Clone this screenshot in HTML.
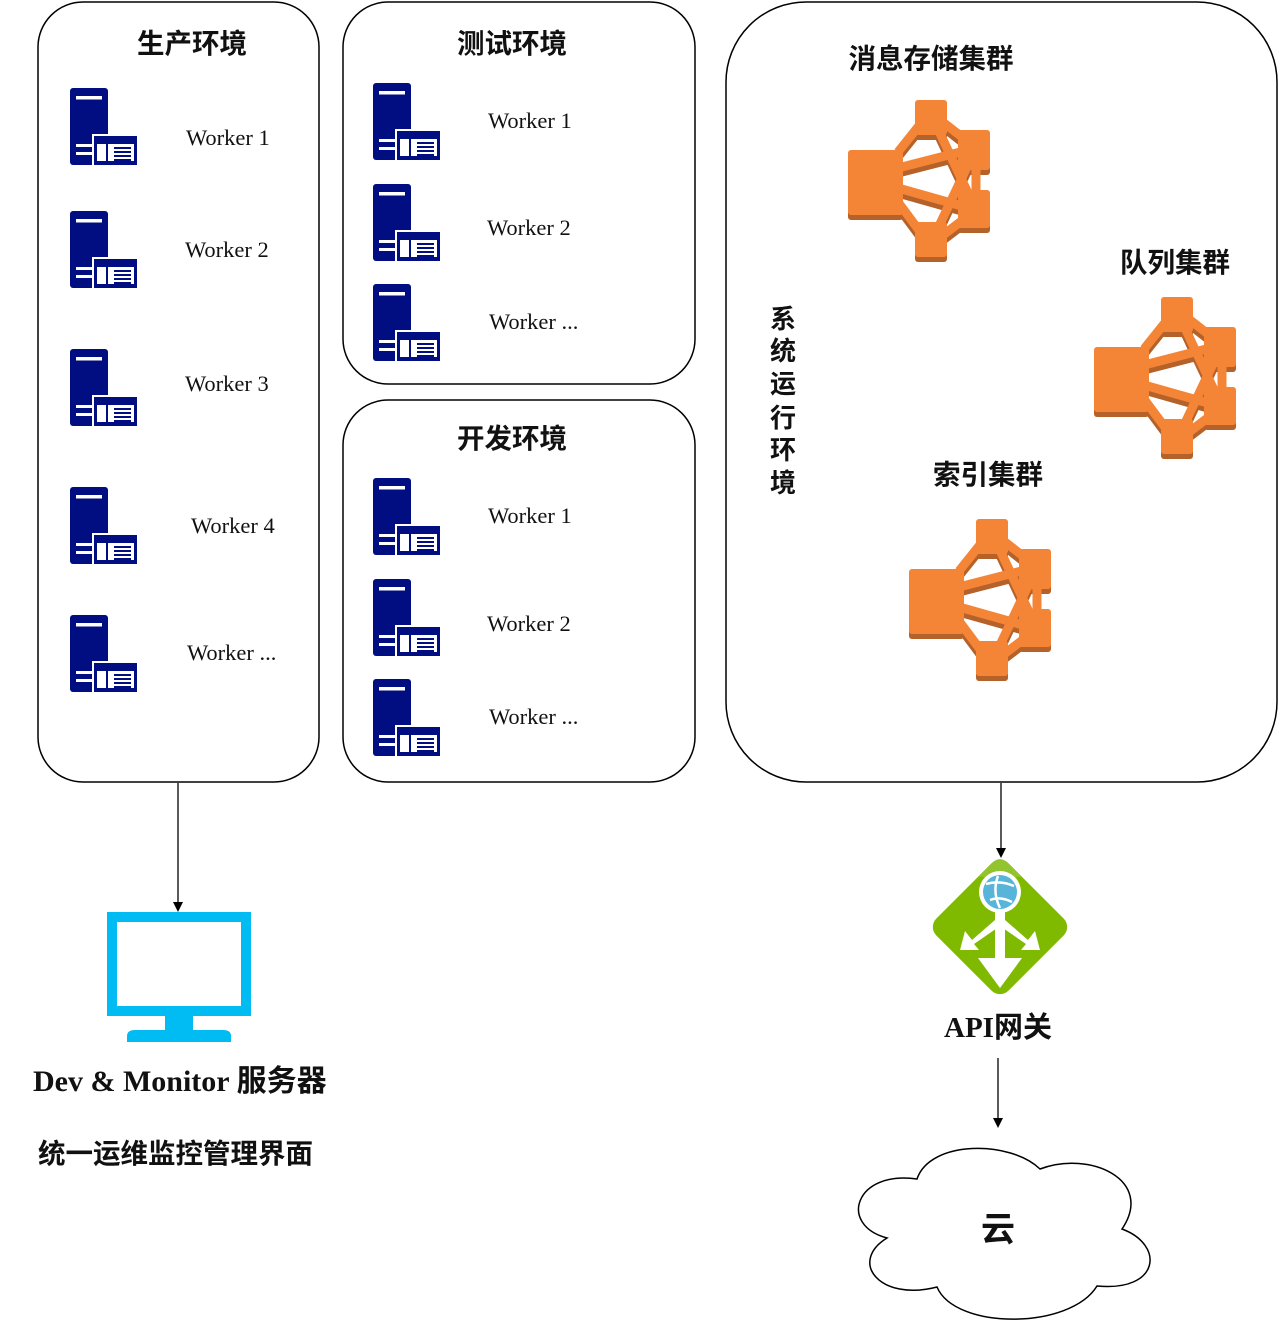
<!DOCTYPE html>
<html><head><meta charset="utf-8"><style>
body{margin:0;background:#fff;width:1280px;height:1329px;overflow:hidden}
svg{display:block}
.cn{font-family:"Liberation Sans","Noto Sans CJK SC",sans-serif;font-weight:bold;fill:#111}
.w{font-family:"Liberation Serif",serif;font-size:22.5px;fill:#111}
</style></head><body>
<svg width="1280" height="1329" viewBox="0 0 1280 1329">
<defs>
<g id="srv">
<rect x="0" y="0" width="38" height="77" rx="3" fill="#000E82"/>
<rect x="6" y="8" width="26" height="3.5" fill="#fff"/>
<rect x="6" y="56" width="17" height="3" fill="#fff"/>
<rect x="6" y="64" width="17" height="3" fill="#fff"/>
<rect x="22" y="46" width="45" height="31" fill="#fff"/>
<rect x="24" y="48" width="43" height="29" fill="#000E82"/>
<rect x="27" y="56" width="9" height="17" fill="#fff"/>
<rect x="38" y="56" width="26" height="17" fill="#fff"/>
<rect x="44" y="59" width="17" height="2" fill="#000E82"/>
<rect x="44" y="63" width="17" height="2" fill="#000E82"/>
<rect x="44" y="67" width="17" height="2" fill="#000E82"/>
<rect x="44" y="71" width="17" height="2" fill="#000E82"/>
</g>
<g id="clu">
<g stroke="#B5612A" stroke-width="9" fill="none" transform="translate(0,5)">
<path d="M50 52 L82 12 L128 48 L128 110 L82 145 L50 102"/>
<path d="M50 68 L128 48 M50 88 L128 110 M82 12 L128 110 M82 145 L128 48"/>
</g>
<g fill="#B5612A">
<rect x="0" y="55" width="55" height="65" rx="3"/><rect x="67" y="5" width="32" height="35" rx="3"/>
<rect x="110" y="35" width="32" height="40" rx="3"/><rect x="110" y="95" width="32" height="38" rx="3"/>
<rect x="67" y="127" width="32" height="35" rx="3"/>
</g>
<g stroke="#F58536" stroke-width="9" fill="none">
<path d="M50 52 L82 12 L128 48 L128 110 L82 145 L50 102"/>
<path d="M50 68 L128 48 M50 88 L128 110 M82 12 L128 110 M82 145 L128 48"/>
</g>
<g fill="#F58536">
<rect x="0" y="50" width="55" height="65" rx="3"/><rect x="67" y="0" width="32" height="35" rx="3"/>
<rect x="110" y="30" width="32" height="40" rx="3"/><rect x="110" y="90" width="32" height="38" rx="3"/>
<rect x="67" y="122" width="32" height="35" rx="3"/>
</g>
</g>
</defs>
<g fill="none" stroke="#000" stroke-width="1.5">
<rect x="38" y="2" width="281" height="780" rx="45"/>
<rect x="343" y="2" width="352" height="382" rx="45"/>
<rect x="343" y="400" width="352" height="382" rx="45"/>
<rect x="726" y="2" width="551" height="780" rx="80"/>
</g>
<text class="cn" x="192" y="53" font-size="27.5" text-anchor="middle">生产环境</text>
<text class="cn" x="512" y="53" font-size="27.5" text-anchor="middle">测试环境</text>
<text class="cn" x="512" y="448" font-size="27.5" text-anchor="middle">开发环境</text>
<use href="#srv" x="70" y="88"/><text class="w" x="186" y="145">Worker 1</text>
<use href="#srv" x="70" y="211"/><text class="w" x="185" y="257">Worker 2</text>
<use href="#srv" x="70" y="349"/><text class="w" x="185" y="391">Worker 3</text>
<use href="#srv" x="70" y="487"/><text class="w" x="191" y="533">Worker 4</text>
<use href="#srv" x="70" y="615"/><text class="w" x="187" y="660">Worker ...</text>
<use href="#srv" x="373" y="83"/><text class="w" x="488" y="128">Worker 1</text>
<use href="#srv" x="373" y="184"/><text class="w" x="487" y="235">Worker 2</text>
<use href="#srv" x="373" y="284"/><text class="w" x="489" y="329">Worker ...</text>
<use href="#srv" x="373" y="478"/><text class="w" x="488" y="523">Worker 1</text>
<use href="#srv" x="373" y="579"/><text class="w" x="487" y="631">Worker 2</text>
<use href="#srv" x="373" y="679"/><text class="w" x="489" y="724">Worker ...</text>
<text class="cn" x="931" y="68" font-size="27.5" text-anchor="middle">消息存储集群</text>
<text class="cn" x="1175" y="272" font-size="27.5" text-anchor="middle">队列集群</text>
<text class="cn" x="988" y="484" font-size="27.5" text-anchor="middle">索引集群</text>
<g class="cn" font-size="26" text-anchor="middle">
<text x="783" y="328">系</text><text x="783" y="360">统</text><text x="783" y="393">运</text>
<text x="783" y="427">行</text><text x="783" y="459">环</text><text x="783" y="492">境</text>
</g>
<use href="#clu" x="848" y="100"/>
<use href="#clu" x="1094" y="297"/>
<use href="#clu" x="909" y="519"/>
<g stroke="#000" stroke-width="1.3">
<line x1="178" y1="783" x2="178" y2="904"/><line x1="1001" y1="783" x2="1001" y2="850"/><line x1="998" y1="1058" x2="998" y2="1120"/>
</g>
<g fill="#000">
<path d="M173 902 L183 902 L178 912Z"/><path d="M996 848 L1006 848 L1001 858Z"/><path d="M993 1118 L1003 1118 L998 1128Z"/>
</g>
<rect x="112" y="917" width="134" height="94" fill="none" stroke="#00BCF2" stroke-width="10"/>
<rect x="165" y="1016" width="28" height="14" fill="#00BCF2"/>
<path d="M127 1042 L127 1036 Q127 1030 135 1030 L223 1030 Q231 1030 231 1036 L231 1042Z" fill="#00BCF2"/>
<text class="cn" x="33" y="1091" font-size="30" style="font-family:'Liberation Serif','Noto Sans CJK SC',serif">Dev &amp; Monitor 服务器</text>
<text class="cn" x="38" y="1163" font-size="27.5">统一运维监控管理界面</text>
<g transform="translate(1000,927) rotate(45)">
<rect x="-51" y="-51" width="102" height="102" rx="12" fill="#7FBA00"/>
<path d="M-51 -39 Q-51 -51 -39 -51 L-20 -51 L-51 -20Z" fill="#93C42F"/>
</g>
<g fill="#fff">
<rect x="995" y="905" width="10" height="57"/>
<path d="M978 958 L1022 958 L1000 988Z"/>
<path d="M995 920 L972 940 L965 931 L960 950 L979 950 L974 944 L1000 926Z"/>
<path d="M1005 920 L1028 940 L1035 931 L1040 950 L1021 950 L1026 944 L1000 926Z"/>
</g>
<circle cx="1000" cy="892" r="21" fill="#fff"/>
<circle cx="1000" cy="892" r="17" fill="#59B4D9"/>
<path d="M986 884 Q1000 880 1014 886 M990 900 Q1000 896 1012 902 M998 876 Q992 892 1000 908" stroke="#fff" stroke-width="2.5" fill="none"/>
<text class="cn" x="998" y="1037" font-size="29" text-anchor="middle" style="font-family:'Liberation Serif','Noto Sans CJK SC',serif">API网关</text>
<path d="M917 1179 C930 1140,1010 1140,1040 1169 C1090 1150,1155 1180,1122 1229 C1165 1245,1160 1292,1097 1286 C1070 1330,955 1330,937 1287 C880 1302,848 1262,887 1238 C838 1225,855 1170,917 1179Z" fill="#fff" stroke="#000" stroke-width="1.5"/>
<text class="cn" x="998" y="1241" font-size="34" text-anchor="middle">云</text>
</svg>
</body></html>
